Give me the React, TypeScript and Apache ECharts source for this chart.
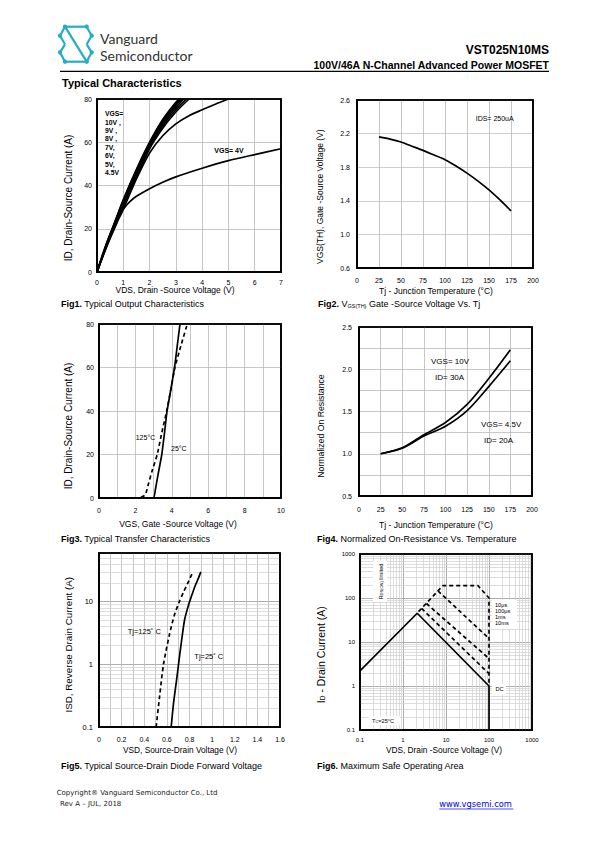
import React, { useEffect, useRef } from 'react';
import * as echarts from 'echarts';

// ---------------- DATA ----------------
// Fig1: ID (A) vs VDS (V) for several VGS
const fig1Vgs10 = [[0,0],[0.25,9],[0.5,17.5],[0.75,25.5],[1,33.5],[1.5,47.5],[2,60],[2.5,70.5],[3,78.5],[3.15,80]];
const fig1Vgs9 = [[0,0],[0.25,9],[0.5,17.3],[0.75,25.2],[1,33],[1.5,47],[2,59.5],[2.5,70],[3,77.8],[3.2,80]];
const fig1Vgs8 = [[0,0],[0.25,8.8],[0.5,17],[0.75,24.8],[1,32.5],[1.5,46.3],[2,59],[2.5,69.3],[3,77],[3.25,80]];
const fig1Vgs7 = [[0,0],[0.25,8.7],[0.5,16.8],[0.75,24.5],[1,32],[1.5,45.7],[2,58.5],[2.5,68.5],[3,76],[3.3,80]];
const fig1Vgs6 = [[0,0],[0.25,8.5],[0.5,16.5],[0.75,24],[1,31.3],[1.5,44.8],[2,57.8],[2.5,67.5],[3,75],[3.4,80]];
const fig1Vgs5 = [[0,0],[0.25,8.3],[0.5,16],[0.75,23.3],[1,30.5],[1.5,44],[2,57],[2.5,66.5],[3,74],[3.5,80]];
const fig1Vgs45 = [[0,0],[0.25,8],[0.5,15.5],[0.75,22.5],[1,29],[1.5,43],[2,55],[2.5,63],[3,68.5],[3.5,72.3],[4,75],[4.5,77.6],[5,80]];
const fig1Vgs4 = [[0,0],[0.25,9.5],[0.5,17.5],[0.75,24],[1,29],[1.25,32.5],[1.5,35],[2,38.5],[2.5,41.5],[3,44],[4,48],[5,51.5],[6,54.3],[7,57]];

// Fig2: VGS(TH) vs Tj
const fig2Vth = [[25,2.16],[37.5,2.135],[50,2.1],[62.5,2.05],[75,2.0],[87.5,1.945],[100,1.89],[112.5,1.815],[125,1.73],[137.5,1.635],[150,1.53],[162.5,1.41],[175,1.28]];
const fig2GridY = [1.0, 1.4, 1.8, 2.2];

// Fig3: ID vs VGS
const fig3T25 = [[0,0],[2.5,0],[3.0,0],[3.1,4],[3.25,11],[3.45,20],[3.6,30],[3.74,40],[3.95,50],[4.15,60],[4.3,70],[4.45,80]];
const fig3T125 = [[0,0],[2.0,0],[2.3,0.3],[2.55,1.5],[2.7,6],[2.9,12],[3.2,20],[3.45,30],[3.72,40],[3.95,50],[4.17,60],[4.5,70],[4.85,80]];

// Fig4: normalized RDS(on) vs Tj
const fig4Vgs10 = [[25,1.0],[50,1.07],[75,1.225],[100,1.37],[125,1.585],[150,1.89],[175,2.23]];
const fig4Vgs45 = [[25,1.0],[50,1.065],[75,1.21],[100,1.325],[125,1.51],[150,1.795],[175,2.1]];

// Fig5: ISD vs VSD (log y)
const fig5T25 = [[0.638,0.1],[0.66,0.25],[0.685,0.55],[0.703,1],[0.73,2.4],[0.757,5.2],[0.79,8.7],[0.81,11.2],[0.85,18],[0.88,24],[0.9,30]];
const fig5T125 = [[0.505,0.1],[0.535,0.3],[0.57,1],[0.623,3],[0.665,6],[0.71,10],[0.745,14],[0.78,19],[0.83,30]];
const fig5MinorY = [0.2,0.3,0.4,0.5,0.6,0.7,0.8,0.9,2,3,4,5,6,7,8,9,20,30,40,50];

// Fig6: SOA (log-log)
const fig6Dc = [[0.1,2.2],[2.14,45],[100,1],[100,0.1]];
const fig6Us10 = [[2.3,49],[8.5,192],[55,192],[100,100],[100,1.05]];
const fig6Us100 = [[6.5,145],[100,12]];
const fig6Ms1 = [[3.5,75],[100,4.2]];
const fig6Ms10 = [[2.7,58],[100,1.9]];
const fig6Minor = [0.2,0.3,0.4,0.5,0.6,0.7,0.8,0.9,2,3,4,5,6,7,8,9,20,30,40,50,60,70,80,90,200,300,400,500,600,700,800,900];

// ---------------- LAYOUT ----------------
const W = 595, H = 842;
const GRIDS = [
  { left: 97, top: 99, width: 184, height: 173 },
  { left: 357, top: 100, width: 176, height: 168 },
  { left: 99, top: 324, width: 182, height: 174 },
  { left: 359, top: 327, width: 173, height: 169 },
  { left: 99, top: 553, width: 181, height: 174 },
  { left: 360, top: 554, width: 172, height: 176 },
];
const NARROW = "'Liberation Sans Narrow','Arial Narrow','Liberation Sans',Arial,sans-serif";
const SANS = "'Liberation Sans',Arial,Helvetica,sans-serif";
const GRIDC = '#b9b9b9';
const TEAL = '#27adc0';

function axis(gridIndex: number, o: any) {
  const { labelMargin = 8, labelSize = 7, formatter, split = true, splitColor = GRIDC, minor, ...rest } = o;
  const a: any = {
    gridIndex,
    axisLine: { show: true, lineStyle: { color: '#000', width: 1.5 } },
    axisTick: { show: false },
    axisLabel: { fontFamily: NARROW, fontSize: labelSize, color: '#000', margin: labelMargin, showMinLabel: true, showMaxLabel: true },
    splitLine: { show: split, showMinLine: false, showMaxLine: false, lineStyle: { color: splitColor, width: 0.8 } },
    ...rest,
  };
  if (formatter) a.axisLabel.formatter = formatter;
  if (minor) {
    a.minorTick = { show: false, splitNumber: minor };
    a.minorSplitLine = { show: true, lineStyle: { color: GRIDC, width: 0.8 } };
  }
  return a;
}

const decade = (v: number) => {
  const l = Math.log10(v);
  return Math.abs(l - Math.round(l)) < 1e-6 ? String(Number(v.toPrecision(3))) : '';
};

function curve(idx: number, data: number[][], dashed = false, smooth: any = 0.25) {
  return {
    type: 'line', xAxisIndex: idx, yAxisIndex: idx, data, symbol: 'none', silent: true,
    smooth, z: 5,
    lineStyle: { color: '#000', width: 1.7, type: dashed ? [4, 3] : 'solid' },
  };
}

function gridLines(idx: number, xs: number[], ys: number[], color = '#cfcfcf') {
  return {
    type: 'line', xAxisIndex: idx, yAxisIndex: idx, data: [], z: 1, silent: true,
    markLine: {
      silent: true, symbol: ['none', 'none'], label: { show: false },
      lineStyle: { color, width: 0.7, type: 'solid' },
      emphasis: { disabled: true },
      data: [...xs.map((v) => ({ xAxis: v })), ...ys.map((v) => ({ yAxis: v }))],
    },
  };
}

function txt(x: number, y: number, text: string, s: any = {}, extra: any = {}) {
  return {
    type: 'text', x, y, z: 70, silent: true, ...extra,
    style: { text, fontFamily: SANS, fontSize: 8, fill: '#000', align: 'left', verticalAlign: 'middle', ...s },
  };
}

function buildOption() {
  const el: any[] = [];
  // logo
  const logoSegs = [
    [[65,26.7],[86.7,26.7]],
    [[65,26.7],[60,35.7],[65,44.3]],
    [[86.7,26.7],[91.7,35.7],[86.7,44.3]],
    [[65,26.7],[86.7,61.7]],
    [[65,44.3],[60,52.3],[65,61.7]],
    [[86.7,44.3],[91.7,52.3],[86.7,61.7]],
    [[65,61.7],[86.7,61.7]],
  ];
  logoSegs.forEach((pts) => el.push({ type: 'polyline', z: 10, silent: true, shape: { points: pts }, style: { stroke: TEAL, lineWidth: 2.2, fill: null, lineJoin: 'round' } }));
  [[65,26.7],[86.7,26.7],[60,35.7],[91.7,35.7],[60,52.3],[91.7,52.3],[65,61.7],[86.7,61.7]].forEach(([x, y]) =>
    el.push({ type: 'circle', z: 11, silent: true, shape: { cx: x, cy: y, r: 2.2 }, style: { fill: TEAL } }));
  el.push(txt(100, 38.5, 'Vanguard', { fontFamily: "Lato,'Open Sans',sans-serif", fontSize: 14, fill: '#333' }));
  el.push(txt(100, 55, 'Semiconductor', { fontFamily: "Lato,'Open Sans',sans-serif", fontSize: 14, fill: '#333' }));
  el.push(txt(549, 50, 'VST025N10MS', { fontSize: 12, fontWeight: 'bold', align: 'right' }));
  el.push(txt(549, 64.5, '100V/46A N-Channel Advanced Power MOSFET', { fontSize: 10.5, fontWeight: 'bold', align: 'right' }));
  el.push({ type: 'line', z: 10, silent: true, shape: { x1: 60, y1: 71.3, x2: 549, y2: 71.3 }, style: { stroke: '#000', lineWidth: 1.2 } });
  el.push(txt(62, 83, 'Typical Characteristics', { fontSize: 11, fontWeight: 'bold' }));

  // captions
  const capRich = {
    b: { fontFamily: SANS, fontSize: 9, fontWeight: 'bold', fill: '#000' },
    s: { fontFamily: SANS, fontSize: 5.5, fill: '#000', verticalAlign: 'bottom', padding: [3, 0, 0, 0] },
  };
  const cap = (x: number, y: number, t: string) => el.push(txt(x, y, t, { fontSize: 9, rich: capRich }));
  cap(61, 304, '{b|Fig1.} Typical Output Characteristics');
  cap(318, 304, '{b|Fig2.} V{s|GS(TH)} Gate -Source Voltage Vs. Tj');
  cap(61, 539, '{b|Fig3.} Typical Transfer Characteristics');
  cap(317, 539, '{b|Fig4.} Normalized On-Resistance Vs. Temperature');
  cap(61, 766, '{b|Fig5.} Typical Source-Drain Diode Forward Voltage');
  cap(317, 766, '{b|Fig6.} Maximum Safe Operating Area');

  // axis titles
  const xt = (x: number, y: number, t: string, size = 8.5) => el.push(txt(x, y, t, { fontSize: size, align: 'center' }));
  const yt = (x: number, y: number, t: string, size = 9.5, rich?: any) =>
    el.push(txt(x, y, t, { fontSize: size, align: 'center', rich }, { rotation: Math.PI / 2 }));
  xt(175, 290, 'VDS, Drain -Source Voltage (V)', 8.5);
  yt(68.3, 198, 'ID, Drain-Source Current (A)', 10);
  xt(436, 290.7, 'Tj - Junction Temperature (°C)');
  yt(320, 196.7, 'VGS(TH), Gate -Source Voltage (V)', 8.5);
  xt(178, 524.3, 'VGS, Gate -Source Voltage (V)');
  yt(68.3, 426, 'ID, Drain-Source Current (A)', 10);
  xt(436, 525, 'Tj - Junction Temperature (°C)');
  yt(320.7, 426, 'Normalized On Resistance', 8.7);
  xt(180, 749.7, 'VSD, Source-Drain Voltage (V)', 8.3);
  yt(68.3, 644.7, 'ISD, Reverse Drain Current (A)', 9.8);
  xt(444, 750.3, 'VDS, Drain -Source Voltage (V)', 8.3);
  yt(320.7, 654.7, 'I{s|D} - Drain Current (A)', 10.5, { s: { fontFamily: SANS, fontSize: 6.5, fill: '#000', verticalAlign: 'bottom', padding: [4, 0, 0, 0] } });

  // annotations
  const an = { fontFamily: NARROW, fontSize: 7 };
  el.push(txt(105, 109.5, 'VGS=\n10V ,\n9V ,\n8V ,\n7V,\n6V,\n5V,\n4.5V', { ...an, fontWeight: 'bold', fontSize: 6.8, lineHeight: 8.4, verticalAlign: 'top' }));
  el.push(txt(214.3, 150.7, 'VGS= 4V', { ...an, fontWeight: 'bold' }));
  el.push(txt(475.7, 118.7, 'IDS= 250uA', an));
  el.push(txt(135.7, 437.3, '125°C', an));
  el.push(txt(171, 448.3, '25°C', an));
  const an8 = { fontFamily: NARROW, fontSize: 8 };
  el.push(txt(431, 361.7, 'VGS= 10V', an8));
  el.push(txt(435, 377.3, 'ID= 30A', an8));
  el.push(txt(481, 424.3, 'VGS= 4.5V', an8));
  el.push(txt(484, 440, 'ID= 20A', an8));
  el.push(txt(127.7, 631.3, 'Tj=125˚ C', { fontFamily: NARROW, fontSize: 7.5 }));
  el.push(txt(194.3, 656.3, 'Tj=25˚ C', { fontFamily: NARROW, fontSize: 7.5 }));

  // fig6 boxes and labels
  const box = (x: number, y: number, w: number, h: number) =>
    el.push({ type: 'rect', z: 65, silent: true, shape: { x, y, width: w, height: h }, style: { fill: '#fff', stroke: null } });
  box(373, 561, 14, 41);
  box(492, 600, 25, 29);
  box(492, 684, 14, 10);
  box(368.5, 716.3, 31.5, 8.6);
  const tiny = { fontFamily: NARROW, fontSize: 5.6 };
  const subRich = { s: { fontFamily: NARROW, fontSize: 4, fill: '#000', verticalAlign: 'bottom', padding: [2, 0, 0, 0] } };
  el.push(txt(380.5, 581.5, 'R{s|DS(ON)} limited', { ...tiny, align: 'center', rich: subRich }, { rotation: Math.PI / 2 }));
  el.push(txt(495, 605, '10μs', tiny));
  el.push(txt(495, 611, '100μs', tiny));
  el.push(txt(495, 617, '1ms', tiny));
  el.push(txt(495, 623, '10ms', tiny));
  el.push(txt(495.5, 689, 'DC', tiny));
  el.push(txt(372, 720.6, 'T{s|C}=25°C', { ...tiny, rich: subRich }));

  // frames
  GRIDS.forEach((g) => el.push({ type: 'rect', z: 80, silent: true, shape: { x: g.left, y: g.top, width: g.width, height: g.height }, style: { fill: 'transparent', stroke: '#000', lineWidth: 1.7 } }));

  // footer
  const ft = { fontFamily: "'DejaVu Sans',Verdana,sans-serif", fontSize: 7, fill: '#222' };
  el.push(txt(56.7, 793.3, 'Copyright® Vanguard Semiconductor Co., Ltd', ft));
  el.push(txt(60, 804.3, 'Rev A – JUL, 2018', ft));
  el.push(txt(439.3, 804.3, 'www.vgsemi.com', { ...ft, fontSize: 8.3, fill: '#0000ee' }));
  el.push({ type: 'line', z: 10, silent: true, shape: { x1: 439.3, y1: 809, x2: 513.3, y2: 809 }, style: { stroke: '#0000ee', lineWidth: 0.7 } });

  return {
    animation: false,
    backgroundColor: '#fff',
    grid: GRIDS.map((g) => ({ ...g, containLabel: false, show: true, borderColor: '#000', borderWidth: 1.5 })),
    xAxis: [
      axis(0, { type: 'value', min: 0, max: 7, interval: 1, labelMargin: 7 }),
      axis(1, { type: 'value', min: 0, max: 200, interval: 25, labelMargin: 9 }),
      axis(2, { type: 'value', min: 0, max: 10, interval: 2, labelMargin: 9, minor: 2 }),
      axis(3, { type: 'value', min: 0, max: 200, interval: 25, labelMargin: 9.5 }),
      axis(4, { type: 'value', min: 0, max: 1.6, interval: 0.2, labelMargin: 9, minor: 2 }),
      axis(5, { type: 'log', logBase: 10, min: 0.1, max: 1000, labelMargin: 7, labelSize: 6, formatter: decade, splitColor: '#999' }),
    ],
    yAxis: [
      axis(0, { type: 'value', min: 0, max: 80, interval: 20, labelMargin: 5 }),
      axis(1, { type: 'value', min: 0.6, max: 2.6, interval: 0.2, labelMargin: 7, split: false,
        formatter: (v: number) => { const k = (v - 0.6) / 0.4; return Math.abs(k - Math.round(k)) < 1e-6 ? v.toFixed(1) : ''; } }),
      axis(2, { type: 'value', min: 0, max: 80, interval: 20, labelMargin: 5 }),
      axis(3, { type: 'value', min: 0.5, max: 2.5, interval: 0.5, labelMargin: 7, minor: 2, formatter: (v: number) => v.toFixed(1) }),
      axis(4, { type: 'log', logBase: 10, min: 0.1, max: 60, labelMargin: 6, labelSize: 7.5, formatter: decade, splitColor: '#999' }),
      axis(5, { type: 'log', logBase: 10, min: 0.1, max: 1000, labelMargin: 5, labelSize: 6, formatter: decade, splitColor: '#999' }),
    ],
    series: [
      curve(0, fig1Vgs10), curve(0, fig1Vgs9), curve(0, fig1Vgs8), curve(0, fig1Vgs7),
      curve(0, fig1Vgs6), curve(0, fig1Vgs5), curve(0, fig1Vgs45), curve(0, fig1Vgs4),
      gridLines(1, [], fig2GridY, GRIDC),
      curve(1, fig2Vth),
      curve(2, fig3T25, false, 0.15), curve(2, fig3T125, true, 0.15),
      curve(3, fig4Vgs10, false, 0.3), curve(3, fig4Vgs45, false, 0.3),
      gridLines(4, [], fig5MinorY),
      curve(4, fig5T25), curve(4, fig5T125, true),
      gridLines(5, fig6Minor, fig6Minor),
      curve(5, fig6Dc, false, false),
      curve(5, fig6Us10, true, false), curve(5, fig6Us100, true, false),
      curve(5, fig6Ms1, true, false), curve(5, fig6Ms10, true, false),
    ],
    graphic: { elements: el },
  };
}

export default function App() {
  const ref = useRef<HTMLDivElement>(null);
  useEffect(() => {
    if (!ref.current) return;
    const chart = echarts.init(ref.current, null, { renderer: 'svg', width: W, height: H });
    chart.setOption(buildOption() as any);
    return () => chart.dispose();
  }, []);
  return <div ref={ref} style={{ position: 'absolute', left: 0, top: 0, width: W, height: H, background: '#fff' }} />;
}
